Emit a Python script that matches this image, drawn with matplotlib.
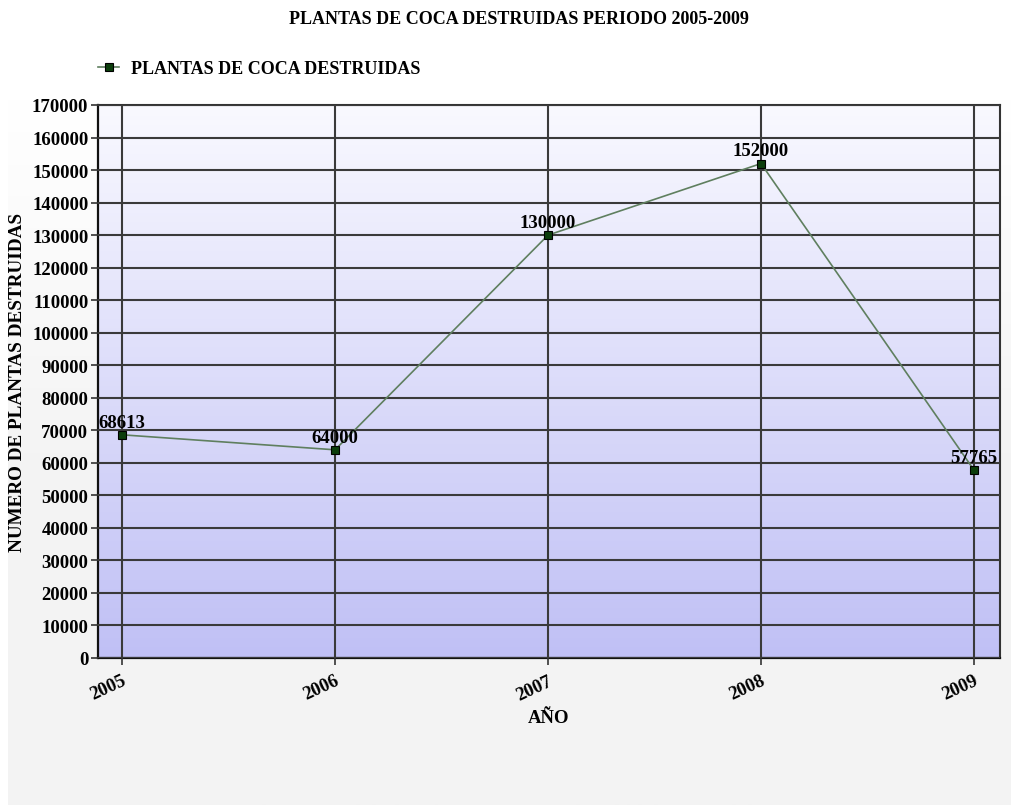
import numpy as np
import matplotlib
matplotlib.use("Agg")
import matplotlib.pyplot as plt
from matplotlib.colors import LinearSegmentedColormap

years = ["2005", "2006", "2007", "2008", "2009"]
values = [68613, 64000, 130000, 152000, 57765]
yticks = list(range(0, 170001, 10000))

title = "PLANTAS DE COCA DESTRUIDAS PERIODO 2005-2009"
series_name = "PLANTAS DE COCA DESTRUIDAS"
xlabel = "AÑO"
ylabel = "NUMERO DE PLANTAS DESTRUIDAS"

plt.rcParams['font.family'] = ['Liberation Serif', 'DejaVu Serif']
plt.rcParams['font.weight'] = 'bold'

W, H = 1013, 812
fig = plt.figure(figsize=(W / 100, H / 100), dpi=100)
fig.patch.set_facecolor('white')

# background panel with soft gradient
bg = fig.add_axes([8 / W, 1 - 806 / H, (1010 - 8) / W, (806 - 100) / H], zorder=-10)
bg_cmap = LinearSegmentedColormap.from_list('bg', ['#ffffff', '#f4f4f4', '#f3f3f3'])
bg.imshow(np.linspace(0, 1, 256).reshape(-1, 1), aspect='auto', cmap=bg_cmap,
          extent=[0, 1, 0, 1], origin='upper')
bg.axis('off')

ax = fig.add_axes([98 / W, 1 - 659 / H, (1000 - 98) / W, (659 - 106) / H])
x = np.arange(len(years))
ax.set_xlim(-0.113, len(years) - 1 + 0.122)
ax.set_ylim(0, 170000)

# plot-area gradient
pa_cmap = LinearSegmentedColormap.from_list('pa', ['#f9f9ff', '#c0c0f5'])
ax.imshow(np.linspace(0, 1, 256).reshape(-1, 1), aspect='auto', cmap=pa_cmap,
          extent=[-0.113, len(years) - 1 + 0.122, 0, 170000], origin='upper', zorder=0)
ax.set_facecolor('none')

ax.set_xticks(x)
ax.set_xticklabels(years, rotation=25, ha='right', fontsize=13.5, fontweight='bold',
                   rotation_mode='anchor')
ax.set_yticks(yticks)
ax.set_yticklabels([str(v) for v in yticks], fontsize=13.5, fontweight='bold')
ax.tick_params(axis='both', length=5, width=1.2, color='#333333', pad=2)
ax.tick_params(axis='x', pad=5)

ax.grid(True, color='#3a3a3a', linewidth=1.5, zorder=1)
ax.set_axisbelow(False)
for s in ['left', 'bottom']:
    ax.spines[s].set_color('#111111')
    ax.spines[s].set_linewidth(1.6)
for s in ['top', 'right']:
    ax.spines[s].set_color('#333333')
    ax.spines[s].set_linewidth(1.5)

line, = ax.plot(x, values, color='#5f7f5f', linewidth=1.2, marker='s', markersize=6,
                markerfacecolor='#0b3d0b', markeredgecolor='#000000', markeredgewidth=0.8,
                zorder=3, label=series_name)

for xi, v in zip(x, values):
    ax.annotate(str(v), (xi, v), xytext=(0, 3), textcoords='offset points',
                ha='center', va='bottom', fontsize=13.5, fontweight='bold', zorder=4)

ax.set_xlabel(xlabel, fontsize=13.5, fontweight='bold', labelpad=4)
ax.set_ylabel(ylabel, fontsize=13.8, fontweight='bold', labelpad=4)

fig.text(519 / W, 1 - 20 / H, title, ha='center', va='center', fontsize=13, fontweight='bold')

leg = fig.legend(handles=[line], loc='center left', bbox_to_anchor=(82 / W, 1 - 70 / H),
                 frameon=False, handlelength=1.15, handletextpad=0.65,
                 prop={'weight': 'bold', 'size': 13})

fig.savefig('out.png', dpi=100)
